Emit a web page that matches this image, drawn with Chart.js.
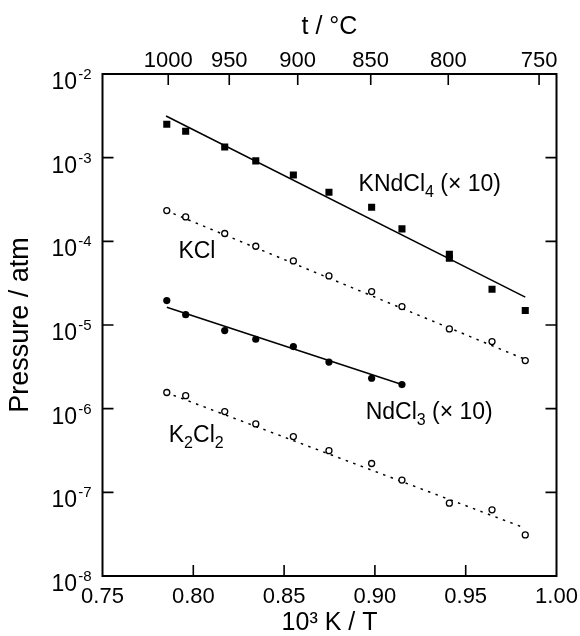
<!DOCTYPE html>
<html><head><meta charset="utf-8">
<script src="https://cdn.jsdelivr.net/npm/chart.js@4.4.1/dist/chart.umd.min.js"></script>
<style>html,body{margin:0;padding:0;background:#fff;} #wrap{width:580px;height:636px;position:relative;}</style>
</head><body><div id="wrap"><canvas id="c" width="580" height="636" style="width:580px;height:636px"></canvas></div>
<script>
// ---- data ----
const kndX = [0.7854,0.7958,0.8173,0.8344,0.8551,0.8747,0.8982,0.9149,0.9410,0.9410,0.9645,0.9828];
const kndY = [2.51e-3,2.07e-3,1.34e-3,9.15e-4,6.21e-4,3.87e-4,2.55e-4,1.41e-4,7.0e-5,6.28e-5,2.68e-5,1.49e-5];
const kclX = [0.7854,0.7958,0.8173,0.8344,0.8551,0.8747,0.8982,0.9149,0.9410,0.9645,0.9828];
const kclY = [2.33e-4,1.96e-4,1.24e-4,8.73e-5,5.83e-5,3.86e-5,2.51e-5,1.66e-5,8.98e-6,6.33e-6,3.76e-6];
const ndX = [0.7854,0.7958,0.8173,0.8344,0.8551,0.8747,0.8982,0.9149];
const ndY = [1.96e-5,1.33e-5,8.57e-6,6.76e-6,5.52e-6,3.60e-6,2.31e-6,1.94e-6];
const k2X = [0.7854,0.7958,0.8173,0.8344,0.8551,0.8747,0.8982,0.9149,0.9410,0.9645,0.9828];
const k2Y = [1.56e-6,1.43e-6,9.23e-7,6.57e-7,4.64e-7,3.15e-7,2.21e-7,1.40e-7,7.43e-8,6.18e-8,3.10e-8];
const fitKndX = [0.7850,0.9828], fitKndY = [3.15e-3,2.15e-5];
const fitKclX = [0.7850,0.9828], fitKclY = [2.33e-4,3.88e-6];
const fitNdX  = [0.7854,0.9149], fitNdY  = [1.63e-5,1.94e-6];
const fitK2X  = [0.7850,0.9828], fitK2Y  = [1.56e-6,3.73e-8];
const xTicks = [0.75,0.80,0.85,0.90,0.95,1.00];
const yTicks = [1e-8,1e-7,1e-6,1e-5,1e-4,1e-3,1e-2];
const topTickPos = [0.7862,0.8198,0.8575,0.8977,0.9404,0.9904];
const topTickLabels = ['1000','950','900','850','800','750'];
const labelKnd = [['KNdCl',0],['4',1],[' (\u00d7 10)',0]];
const labelKcl = [['KCl',0]];
const labelNd  = [['NdCl',0],['3',1],[' (\u00d7 10)',0]];
const labelK2  = [['K',0],['2',1],['Cl',0],['2',1]];
// label anchors (left edge, baseline) in data units
const labelPos = [[0.8910,4.04e-4],[0.7918,6.38e-5],[0.8949,7.5e-7],[0.7865,3.98e-7]];

const FONT = '"Liberation Sans", Arial, Helvetica, sans-serif';
Chart.defaults.font.family = FONT;
Chart.defaults.color = '#000';

const pts = (xs, ys) => xs.map((x, i) => ({x, y: ys[i]}));

const TICK = 11;
const decor = {
  id: 'decor',
  afterDraw(chart) {
    const {ctx, chartArea: a, scales} = chart;
    ctx.save();
    ctx.strokeStyle = '#000';
    ctx.lineWidth = 1.6;
    ctx.beginPath();
    scales.x.ticks.forEach(t => {
      const p = scales.x.getPixelForValue(t.value);
      if (p < a.left + 2 || p > a.right - 2) return;
      ctx.moveTo(p, a.bottom); ctx.lineTo(p, a.bottom - TICK);
    });
    scales.x2.ticks.forEach(t => {
      const p = scales.x2.getPixelForValue(t.value);
      if (p < a.left + 2 || p > a.right - 2) return;
      ctx.moveTo(p, a.top); ctx.lineTo(p, a.top + TICK);
    });
    scales.y.ticks.forEach(t => {
      const p = scales.y.getPixelForValue(t.value);
      if (p < a.top + 2 || p > a.bottom - 2) return;
      ctx.moveTo(a.left, p); ctx.lineTo(a.left + TICK, p);
      ctx.moveTo(a.right, p); ctx.lineTo(a.right - TICK, p);
    });
    ctx.stroke();
    ctx.lineWidth = 2;
    ctx.strokeRect(a.left, a.top, a.right - a.left, a.bottom - a.top);

    // y tick labels with superscript exponents
    ctx.fillStyle = '#000';
    ctx.textBaseline = 'alphabetic';
    scales.y.ticks.forEach(t => {
      const p = scales.y.getPixelForValue(t.value);
      const e = Math.round(Math.log10(t.value));
      const es = String(e);
      ctx.font = '15px ' + FONT;
      const we = ctx.measureText(es).width;
      const right = a.left - 11;
      ctx.textAlign = 'left';
      ctx.fillText(es, right - we, p + 5);
      ctx.font = '23px ' + FONT;
      const wb = ctx.measureText('10').width;
      ctx.fillText('10', right - we - wb - 1, p + 15);
    });

    // series labels
    const drawRich = (parts, px, py) => {
      let x = px;
      parts.forEach(([txt, sub]) => {
        ctx.font = (sub ? '16px ' : '23px ') + FONT;
        ctx.fillText(txt, x, py + (sub ? 6 : 0));
        x += ctx.measureText(txt).width;
      });
    };
    [labelKnd, labelKcl, labelNd, labelK2].forEach((parts, i) => {
      const [vx, vy] = labelPos[i];
      drawRich(parts, scales.x.getPixelForValue(vx), scales.y.getPixelForValue(vy));
    });
    ctx.restore();
  }
};

const fixW = w => s => { s.width = w; s.paddingTop = 0; s.paddingBottom = 0; };
const fixH = h => s => { s.height = h; s.paddingLeft = 0; s.paddingRight = 0; };

new Chart(document.getElementById('c'), {
  type: 'scatter',
  data: {
    datasets: [
      {label: 'KNdCl4', data: pts(kndX, kndY), pointStyle: 'rect', pointRadius: 5, pointBackgroundColor: '#000', pointBorderWidth: 0, showLine: false, order: 1},
      {label: 'KCl', data: pts(kclX, kclY), pointStyle: 'circle', pointRadius: 3, pointBackgroundColor: '#fff', pointBorderColor: '#000', pointBorderWidth: 1.3, showLine: false, order: 1},
      {label: 'NdCl3', data: pts(ndX, ndY), pointStyle: 'circle', pointRadius: 3.6, pointBackgroundColor: '#000', pointBorderWidth: 0, showLine: false, order: 1},
      {label: 'K2Cl2', data: pts(k2X, k2Y), pointStyle: 'circle', pointRadius: 3, pointBackgroundColor: '#fff', pointBorderColor: '#000', pointBorderWidth: 1.3, showLine: false, order: 1},
      {label: 'fit KNdCl4', data: pts(fitKndX, fitKndY), showLine: true, pointRadius: 0, borderColor: '#000', borderWidth: 1.5, order: 2},
      {label: 'fit KCl', data: pts(fitKclX, fitKclY), showLine: true, pointRadius: 0, borderColor: '#000', borderWidth: 1.5, borderDash: [2.5, 5.5], order: 2},
      {label: 'fit NdCl3', data: pts(fitNdX, fitNdY), showLine: true, pointRadius: 0, borderColor: '#000', borderWidth: 1.5, order: 2},
      {label: 'fit K2Cl2', data: pts(fitK2X, fitK2Y), showLine: true, pointRadius: 0, borderColor: '#000', borderWidth: 1.5, borderDash: [2.5, 5.5], order: 2}
    ]
  },
  options: {
    responsive: false,
    animation: false,
    devicePixelRatio: 1,
    layout: {padding: {left: 0, right: 23.5, top: 0, bottom: 0}},
    plugins: {legend: {display: false}, tooltip: {enabled: false}},
    scales: {
      x: {
        type: 'linear', position: 'bottom', min: 0.75, max: 1.0,
        afterBuildTicks: s => { s.ticks = xTicks.map(v => ({value: v})); },
        afterFit: fixH(60),
        grid: {display: false, drawTicks: false},
        border: {display: false},
        ticks: {autoSkip: false, maxRotation: 0, padding: 8, font: {size: 22}, callback: v => Number(v).toFixed(2)},
        title: {display: true, text: '10\u00b3 K / T', font: {size: 25, lineHeight: 1.0}, padding: {top: 0, bottom: 0}}
      },
      x2: {
        type: 'linear', position: 'top', min: 0.75, max: 1.0,
        afterBuildTicks: s => { s.ticks = topTickPos.map(v => ({value: v})); },
        afterFit: fixH(74),
        grid: {display: false, drawTicks: false},
        border: {display: false},
        ticks: {autoSkip: false, maxRotation: 0, padding: 0, font: {size: 22}, callback: (v, i) => topTickLabels[i]},
        title: {display: true, text: 't / \u00b0C', font: {size: 25}, padding: {top: 12, bottom: 0}}
      },
      y: {
        type: 'logarithmic', position: 'left', min: 1e-8, max: 1e-2,
        afterBuildTicks: s => { s.ticks = yTicks.map(v => ({value: v})); },
        afterFit: fixW(102.5),
        grid: {display: false, drawTicks: false},
        border: {display: false},
        ticks: {display: false},
        title: {display: true, text: 'Pressure / atm', font: {size: 27}, padding: {top: 4, bottom: 0}}
      }
    }
  },
  plugins: [decor]
});
</script></body></html>
